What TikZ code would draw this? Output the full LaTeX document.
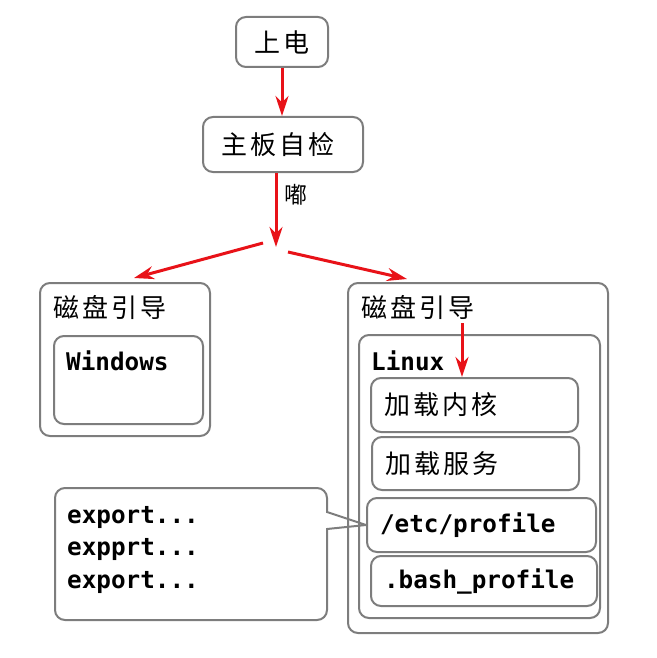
\documentclass[tikz,border=0pt]{standalone}
\usepackage{fontspec}
\newfontfamily\cjk[LetterSpace=12]{Noto Sans CJK SC}
\newfontfamily\cjkplain{Noto Sans CJK SC}
\newfontfamily\mono{DejaVu Sans Mono}
\usetikzlibrary{arrows.meta,calc}
\definecolor{boxgray}{RGB}{125,125,125}
\definecolor{arrowred}{RGB}{232,18,24}
\begin{document}
\begin{tikzpicture}[x=1pt,y=-1pt,
  box/.style={draw=boxgray, line width=2pt, rounded corners=10pt, fill=white, inner sep=0pt},
  itembox/.style={box, inner xsep=13pt, inner ysep=0pt, align=left},
  cjktxt/.style={font=\cjk\fontsize{26}{30}\selectfont},
  monotxt/.style={font=\mono\bfseries\fontsize{24.3}{32.5}\selectfont},
  plaintxt/.style={inner sep=0pt},
  redarrow/.style={draw=arrowred, line width=3pt, -{Stealth[length=20pt,width=13pt]}},
  boxline/.style={draw=boxgray, line width=2pt}]
\useasboundingbox (0,0) rectangle (656,658);

% top boxes
\node[box, cjktxt, minimum width=92pt, minimum height=50pt] (pd) at (282,42) {上电};
\node[box, cjktxt, minimum width=160pt, minimum height=55pt] (zb) at (283,144.5) {\hspace*{-10pt}主板自检};

% left container
\node[box, minimum width=170pt, minimum height=153pt] (lb) at (125,359.5) {};
\node[plaintxt, cjktxt, anchor=west] (lbt) at (53,307) {磁盘引导};
\node[box, minimum width=149pt, minimum height=88pt] (win) at (128.5,380) {};
\node[plaintxt, monotxt, anchor=west] (wint) at (66,361) {Windows};

% right container
\node[box, minimum width=260pt, minimum height=350pt] (rb) at (478,458) {};
\node[plaintxt, cjktxt, anchor=west] (rbt) at (361,307) {磁盘引导};
\node[box, minimum width=241pt, minimum height=283pt] (lin) at (479.5,476.5) {};
\node[plaintxt, monotxt, anchor=west] (lint) at (371,361) {Linux};

\node[itembox, cjktxt, text width=181pt, minimum height=54pt] (kern) at (474.5,405) {加载内核};
\node[itembox, cjktxt, text width=181pt, minimum height=53pt] (serv) at (475.5,463.5) {加载服务};
\node[itembox, monotxt, text width=203pt, minimum height=54pt] (etc) at (481.5,525) {/etc/profile};
\node[itembox, monotxt, text width=200pt, minimum height=50pt] (bash) at (484,581) {.bash\_profile};

% callout
\node[box, minimum width=272pt, minimum height=132pt] (cb) at (191,554) {};
\node[plaintxt, monotxt, anchor=north west, align=left] (cbt) at (67,506) {export...\\expprt...\\export...};
\fill[white] ($(cb.north east)+(-2,26)$) rectangle ($(cb.north east)+(2,41)$);
\draw[boxline, line join=round] ($(cb.north east)+(-1,25)$) -- (etc.west) -- ($(cb.north east)+(-1,42)$);

% arrows
\coordinate (fork) at (276,247);
\coordinate (fl1) at (263,243);
\coordinate (fl2) at (134,278);
\coordinate (fr1) at (288,252);
\coordinate (fr2) at (407,279);
\coordinate (ka) at (462,323);
\draw[redarrow] (pd.south) -- (pd.south |- zb.north);
\draw[redarrow] (zb.south -| fork) -- (fork);
\node[plaintxt, font=\cjkplain\fontsize{23}{26}\selectfont] (du) at (296,195) {嘟};
\draw[redarrow] (fl1) -- (fl2);
\draw[redarrow] (fr1) -- (fr2);
\draw[redarrow] (ka) -- (ka |- kern.north);
\end{tikzpicture}
\end{document}
